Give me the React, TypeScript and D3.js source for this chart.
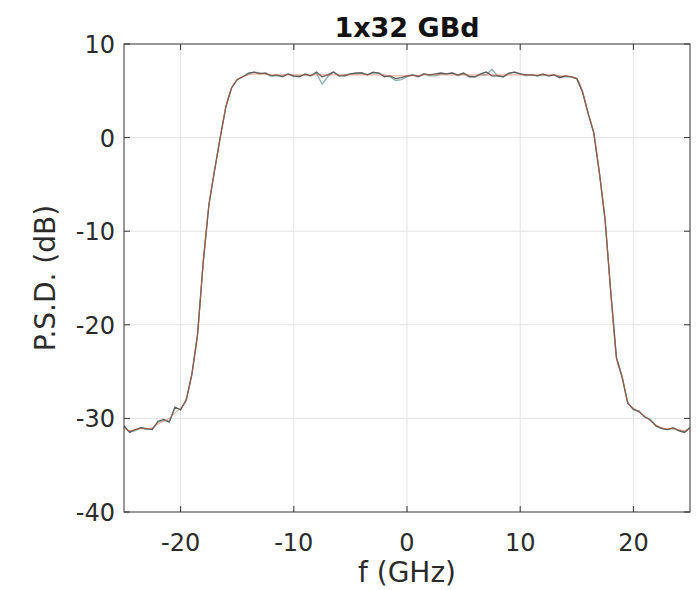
import React, { useEffect, useRef } from 'react';
import * as d3 from 'd3';

// frequency grid of the spectra (GHz)
const freqGHz: number[] = d3.range(-25, 25.001, 0.5);

// measured PSD (dB), dark trace
const measuredA: number[] = [
  -30.8, -31.5, -31.2, -31.0, -31.1, -31.2, -30.3, -30.1, -30.4, -28.8, -29.1, -28.0,
  -25.3, -21.0, -13.3, -7.2, -3.5, 0.0, 3.3, 5.3, 6.2,
  6.5, 6.9, 7.0, 6.8, 6.9, 6.6, 6.7, 6.5, 6.8, 6.6, 6.5, 6.8, 6.6, 7.0, 6.5, 6.7, 7.0, 6.6, 6.6, 6.8,
  6.9, 6.9, 6.7, 7.0, 6.9, 6.5, 6.6, 6.3, 6.4, 6.6, 6.7, 6.5, 6.8, 6.7, 6.8, 6.9, 6.8, 6.9, 6.7, 6.9,
  6.5, 6.5, 6.8, 7.0, 6.6, 6.6, 6.5, 6.9, 7.0, 6.8, 6.7, 6.7, 6.6, 6.8, 6.6, 6.7, 6.4, 6.6, 6.5,
  6.3, 4.9, 2.6, 0.5, -3.8, -8.8, -16.5, -23.5, -25.6,
  -28.4, -29.0, -29.3, -29.8, -30.2, -30.8, -31.1, -31.2, -31.0, -31.3, -31.5, -31.0,
];

// second measured trace, light
const measuredB: number[] = [
  -30.9, -31.4, -31.3, -31.0, -31.2, -31.1, -30.4, -30.2, -30.3, -28.9, -29.0, -28.1,
  -25.2, -21.0, -13.3, -7.2, -3.5, 0.0, 3.3, 5.3, 6.2,
  6.5, 6.8, 7.0, 6.9, 6.8, 6.6, 6.6, 6.6, 6.8, 6.5, 6.6, 6.7, 6.6, 6.9, 5.7, 6.5, 7.0, 6.6, 6.7, 6.8,
  6.8, 6.9, 6.7, 6.9, 6.9, 6.6, 6.5, 6.1, 6.2, 6.5, 6.7, 6.6, 6.8, 6.6, 6.6, 6.8, 6.8, 6.9, 6.6, 6.8,
  6.6, 6.5, 6.7, 6.7, 7.3, 6.6, 6.5, 6.8, 7.0, 6.8, 6.6, 6.7, 6.6, 6.7, 6.6, 6.7, 6.5, 6.5, 6.5,
  6.3, 4.9, 2.6, 0.5, -3.8, -8.8, -16.5, -23.5, -25.5,
  -28.3, -29.1, -29.2, -29.9, -30.1, -30.8, -31.0, -31.2, -31.1, -31.3, -31.4, -31.0,
];

// modelled PSD (dB), smooth trace
const modelPsd: number[] = [
  -31.1, -31.3, -31.2, -31.1, -31.1, -31.0, -30.6, -30.3, -30.0, -29.4, -28.9, -27.9,
  -25.2, -21.0, -13.3, -7.2, -3.5, 0.0, 3.3, 5.3, 6.2,
  6.5, 6.7, 6.8, 6.8, 6.8, 6.7, 6.7, 6.7, 6.7, 6.7, 6.7, 6.7, 6.7, 6.7, 6.7, 6.7, 6.7, 6.7, 6.7, 6.7,
  6.7, 6.7, 6.7, 6.7, 6.7, 6.7, 6.6, 6.6, 6.6, 6.6, 6.6, 6.6, 6.7, 6.7, 6.7, 6.7, 6.7, 6.7, 6.7, 6.7,
  6.7, 6.7, 6.7, 6.7, 6.7, 6.7, 6.7, 6.7, 6.7, 6.7, 6.7, 6.7, 6.7, 6.7, 6.7, 6.7, 6.6, 6.6, 6.5,
  6.3, 4.9, 2.6, 0.5, -3.8, -8.8, -16.5, -23.5, -25.5,
  -28.2, -28.9, -29.3, -29.8, -30.2, -30.7, -31.0, -31.1, -31.1, -31.2, -31.3, -31.1,
];

const xTicks = [-20, -10, 0, 10, 20];
const yTicks = [-40, -30, -20, -10, 0, 10];

const W = 700, H = 590;
const margin = { top: 44, right: 10, bottom: 78, left: 124 };
const FONT = 'DejaVu Sans, sans-serif';
const TXT = '#2b2b2b';

export default function App() {
  const ref = useRef<SVGSVGElement>(null);

  useEffect(() => {
    const svg = d3.select(ref.current);
    svg.selectAll('*').remove();

    const x = d3.scaleLinear().domain([-25, 25]).range([margin.left, W - margin.right]);
    const y = d3.scaleLinear().domain([-40, 10]).range([H - margin.bottom, margin.top]);
    const [x0, x1] = x.range();
    const [y0, y1] = y.range();

    // grid
    const grid = svg.append('g');
    grid.selectAll('.gx').data(xTicks).join('line')
      .attr('x1', d => x(d)).attr('x2', d => x(d))
      .attr('y1', y1).attr('y2', y0)
      .attr('stroke', '#e3e3e3').attr('stroke-width', 1);
    grid.selectAll('.gy').data(yTicks.slice(1, -1)).join('line')
      .attr('x1', x0).attr('x2', x1)
      .attr('y1', d => y(d)).attr('y2', d => y(d))
      .attr('stroke', '#e3e3e3').attr('stroke-width', 1);

    const pts = (vals: number[]) => freqGHz.map((f, i) => [f, vals[i]] as [number, number]);
    const line = d3.line<[number, number]>().x(d => x(d[0])).y(d => y(d[1]));
    const smooth = d3.line<[number, number]>().x(d => x(d[0])).y(d => y(d[1])).curve(d3.curveMonotoneX);

    svg.append('path').attr('d', line(pts(measuredB)))
      .attr('fill', 'none').attr('stroke', '#86b3b0').attr('stroke-width', 1.3);
    svg.append('path').attr('d', line(pts(measuredA)))
      .attr('fill', 'none').attr('stroke', '#5c5c5c').attr('stroke-width', 1.3);
    svg.append('path').attr('d', smooth(pts(modelPsd)))
      .attr('fill', 'none').attr('stroke', '#e0552a').attr('stroke-width', 1).attr('opacity', 0.55);

    // box
    svg.append('rect').attr('x', x0).attr('y', y1).attr('width', x1 - x0).attr('height', y0 - y1)
      .attr('fill', 'none').attr('stroke', '#333').attr('stroke-width', 1);

    const tl = 6;
    const ax = svg.append('g').attr('stroke', '#333').attr('stroke-width', 1);
    xTicks.forEach(t => {
      ax.append('line').attr('x1', x(t)).attr('x2', x(t)).attr('y1', y0).attr('y2', y0 - tl);
      ax.append('line').attr('x1', x(t)).attr('x2', x(t)).attr('y1', y1).attr('y2', y1 + tl);
    });
    yTicks.forEach(t => {
      ax.append('line').attr('x1', x0).attr('x2', x0 + tl).attr('y1', y(t)).attr('y2', y(t));
      ax.append('line').attr('x1', x1).attr('x2', x1 - tl).attr('y1', y(t)).attr('y2', y(t));
    });

    svg.selectAll('.xl').data(xTicks).join('text')
      .attr('x', d => x(d)).attr('y', 551)
      .attr('text-anchor', 'middle').attr('font-family', FONT).attr('font-size', 24)
      .attr('fill', TXT).text(d => d);
    svg.selectAll('.yl').data(yTicks).join('text')
      .attr('x', x0 - 9).attr('y', d => y(d) + 9)
      .attr('text-anchor', 'end').attr('font-family', FONT).attr('font-size', 24)
      .attr('fill', TXT).text(d => d);

    svg.append('text').attr('x', (x0 + x1) / 2).attr('y', 37)
      .attr('text-anchor', 'middle').attr('font-family', FONT).attr('font-size', 27)
      .attr('font-weight', 'bold').attr('fill', '#111').text('1x32 GBd');
    svg.append('text').attr('x', (x0 + x1) / 2).attr('y', 582)
      .attr('text-anchor', 'middle').attr('font-family', FONT).attr('font-size', 28)
      .attr('fill', TXT).text('f (GHz)');
    svg.append('text').attr('transform', `translate(55, ${(y0 + y1) / 2}) rotate(-90)`)
      .attr('text-anchor', 'middle').attr('font-family', FONT).attr('font-size', 28)
      .attr('fill', TXT).text('P.S.D. (dB)');
  }, []);

  return <svg ref={ref} width={W} height={H} style={{ position: 'absolute', left: 0, top: 0, background: '#fff' }} />;
}
